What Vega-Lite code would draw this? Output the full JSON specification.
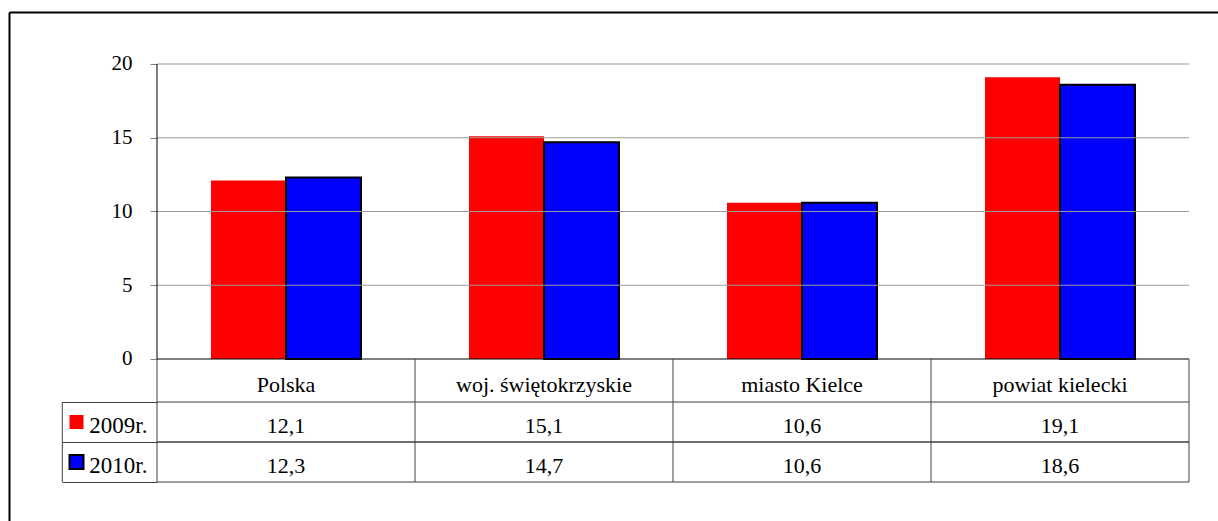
{
  "$schema": "https://vega.github.io/schema/vega-lite/v6.json",
  "width": 1209,
  "height": 509,
  "autosize": {"type": "none"},
  "padding": {"left": 9, "top": 12, "right": 0, "bottom": 0},
  "background": "white",
  "config": {
    "view": {"stroke": null},
    "font": "Liberation Serif",
    "axis": {"labelFont": "Liberation Serif", "labelColor": "black"},
    "text": {"font": "Liberation Serif"}
  },
  "datasets": {
    "vals": [
      {"cat": "Polska", "year": "2009r.", "value": 12.1},
      {"cat": "Polska", "year": "2010r.", "value": 12.3},
      {"cat": "woj. świętokrzyskie", "year": "2009r.", "value": 15.1},
      {"cat": "woj. świętokrzyskie", "year": "2010r.", "value": 14.7},
      {"cat": "miasto Kielce", "year": "2009r.", "value": 10.6},
      {"cat": "miasto Kielce", "year": "2010r.", "value": 10.6},
      {"cat": "powiat kielecki", "year": "2009r.", "value": 19.1},
      {"cat": "powiat kielecki", "year": "2010r.", "value": 18.6}
    ],
    "cats": [
      {"cat": "Polska"},
      {"cat": "woj. świętokrzyskie"},
      {"cat": "miasto Kielce"},
      {"cat": "powiat kielecki"}
    ]
  },
  "resolve": {"scale": {"y": "independent"}, "axis": {"x": "independent", "y": "independent"}},
  "layer": [
    {
      "data": {"name": "vals"},
      "mark": {"type": "bar", "strokeWidth": 2},
      "encoding": {
        "x": {"field": "cat", "type": "nominal",
          "scale": {"type": "band", "domain": ["Polska", "woj. świętokrzyskie", "miasto Kielce", "powiat kielecki"], "paddingInner": 0, "paddingOuter": 0.343, "align": 0.8362},
          "axis": {"orient": "bottom", "offset": -162, "domain": false, "ticks": false, "grid": false, "labelAngle": 0, "labelPadding": 32, "labelBaseline": "alphabetic", "labelFontSize": 22, "labelLimit": 0, "title": null}},
        "xOffset": {"field": "year", "type": "nominal", "scale": {"domain": ["2009r.", "2010r."], "paddingInner": 0, "paddingOuter": 0.72}},
        "y": {"field": "value", "type": "quantitative",
          "scale": {"type": "linear", "domain": [-10.983, 23.525], "nice": false, "zero": false},
          "axis": {"orient": "left", "offset": -148, "values": [0, 5, 10, 15, 20], "domain": false, "ticks": true, "tickSize": 7, "tickColor": "#808080", "grid": false, "labelPadding": 18, "labelFontSize": 21, "title": null}},
        "fill": {"field": "year", "type": "nominal", "scale": {"domain": ["2009r.", "2010r."], "range": ["#ff0000", "#0000ff"]}, "legend": null},
        "stroke": {"condition": {"test": "datum.year === '2010r.'", "value": "#000000"}, "value": "transparent"}
      }
    },
    {
      "data": {"name": "cats"},
      "mark": {"type": "tick", "orient": "horizontal", "size": 258, "thickness": 1, "color": "#9a9a9a", "opacity": 1},
      "encoding": {
        "x": {"field": "cat", "type": "nominal", "scale": {"type": "band", "domain": ["Polska", "woj. świętokrzyskie", "miasto Kielce", "powiat kielecki"], "paddingInner": 0, "paddingOuter": 0.343, "align": 0.8362}, "axis": null},
        "y": {"datum": 5, "type": "quantitative", "scale": {"type": "linear", "domain": [-10.983, 23.525], "nice": false, "zero": false},
          "axis": {"orient": "left", "domain": true, "domainColor": "#000000", "domainWidth": 2, "ticks": false, "labels": false, "grid": false, "title": null}}
      }
    },
    {
      "data": {"name": "cats"},
      "mark": {"type": "tick", "orient": "horizontal", "size": 258, "thickness": 1, "color": "#9a9a9a", "opacity": 1},
      "encoding": {
        "x": {"field": "cat", "type": "nominal", "scale": {"type": "band", "domain": ["Polska", "woj. świętokrzyskie", "miasto Kielce", "powiat kielecki"], "paddingInner": 0, "paddingOuter": 0.343, "align": 0.8362}, "axis": null},
        "y": {"datum": 10, "type": "quantitative", "scale": {"type": "linear", "domain": [-10.983, 23.525], "nice": false, "zero": false}, "axis": null}
      }
    },
    {
      "data": {"name": "cats"},
      "mark": {"type": "tick", "orient": "horizontal", "size": 258, "thickness": 1, "color": "#9a9a9a", "opacity": 1},
      "encoding": {
        "x": {"field": "cat", "type": "nominal", "scale": {"type": "band", "domain": ["Polska", "woj. świętokrzyskie", "miasto Kielce", "powiat kielecki"], "paddingInner": 0, "paddingOuter": 0.343, "align": 0.8362}, "axis": null},
        "y": {"datum": 15, "type": "quantitative", "scale": {"type": "linear", "domain": [-10.983, 23.525], "nice": false, "zero": false}, "axis": null}
      }
    },
    {
      "data": {"name": "cats"},
      "mark": {"type": "tick", "orient": "horizontal", "size": 258, "thickness": 1, "color": "#9a9a9a", "opacity": 1},
      "encoding": {
        "x": {"field": "cat", "type": "nominal", "scale": {"type": "band", "domain": ["Polska", "woj. świętokrzyskie", "miasto Kielce", "powiat kielecki"], "paddingInner": 0, "paddingOuter": 0.343, "align": 0.8362}, "axis": null},
        "y": {"datum": 20, "type": "quantitative", "scale": {"type": "linear", "domain": [-10.983, 23.525], "nice": false, "zero": false}, "axis": null}
      }
    },
    {
      "data": {"name": "cats"},
      "mark": {"type": "tick", "orient": "horizontal", "size": 258, "thickness": 1, "color": "#000000", "opacity": 1},
      "encoding": {
        "x": {"field": "cat", "type": "nominal", "scale": {"type": "band", "domain": ["Polska", "woj. świętokrzyskie", "miasto Kielce", "powiat kielecki"], "paddingInner": 0, "paddingOuter": 0.343, "align": 0.8362}, "axis": null},
        "y": {"datum": 0, "type": "quantitative", "scale": {"type": "linear", "domain": [-10.983, 23.525], "nice": false, "zero": false}, "axis": null}
      }
    },
    {
      "data": {"name": "cats"},
      "mark": {"type": "rule", "color": "#404040", "strokeWidth": 1},
      "encoding": {
        "x": {"field": "cat", "type": "nominal", "bandPosition": 0, "scale": {"type": "band", "domain": ["Polska", "woj. świętokrzyskie", "miasto Kielce", "powiat kielecki"], "paddingInner": 0, "paddingOuter": 0.343, "align": 0.8362}, "axis": null},
        "y": {"datum": 0, "type": "quantitative", "scale": {"type": "linear", "domain": [-10.983, 23.525], "nice": false, "zero": false}, "axis": null},
        "y2": {"datum": -8.339}
      }
    },
    {
      "data": {"name": "cats"},
      "transform": [{"filter": "datum.cat === 'powiat kielecki'"}],
      "mark": {"type": "rule", "color": "#404040", "strokeWidth": 1},
      "encoding": {
        "x": {"field": "cat", "type": "nominal", "bandPosition": 1, "scale": {"type": "band", "domain": ["Polska", "woj. świętokrzyskie", "miasto Kielce", "powiat kielecki"], "paddingInner": 0, "paddingOuter": 0.343, "align": 0.8362}, "axis": null},
        "y": {"datum": 0, "type": "quantitative", "scale": {"type": "linear", "domain": [-10.983, 23.525], "nice": false, "zero": false}, "axis": null},
        "y2": {"datum": -8.339}
      }
    },
    {
      "data": {"name": "cats"},
      "transform": [{"filter": "datum.cat === 'Polska'"}],
      "mark": {"type": "rule", "color": "#000000", "strokeWidth": 1},
      "encoding": {
        "x": {"field": "cat", "type": "nominal", "bandPosition": 0, "scale": {"type": "band", "domain": ["Polska", "woj. świętokrzyskie", "miasto Kielce", "powiat kielecki"], "paddingInner": 0, "paddingOuter": 0.343, "align": 0.8362}, "axis": null},
        "y": {"datum": 20, "type": "quantitative", "scale": {"type": "linear", "domain": [-10.983, 23.525], "nice": false, "zero": false}, "axis": null},
        "y2": {"datum": 0}
      }
    },
    {
      "data": {"name": "vals"},
      "transform": [{"calculate": "replace(format(datum.value, '.1f'), '.', ',')", "as": "lab"}],
      "mark": {"type": "text", "font": "Liberation Serif", "fontSize": 22, "baseline": "alphabetic", "align": "center", "color": "#000000"},
      "encoding": {
        "x": {"field": "cat", "type": "nominal", "scale": {"type": "band", "domain": ["Polska", "woj. świętokrzyskie", "miasto Kielce", "powiat kielecki"], "paddingInner": 0, "paddingOuter": 0.343, "align": 0.8362},
          "axis": {"orient": "top", "domain": true, "domainColor": "#000000", "domainWidth": 2, "ticks": false, "labels": false, "grid": false, "title": null}},
        "y": {"field": "year", "type": "nominal", "bandPosition": 0.77,
          "scale": {"type": "band", "domain": ["2009r.", "2010r."], "paddingInner": 0, "paddingOuter": 0, "range": [390, 470]},
          "axis": {"orient": "left", "offset": -148, "domain": false, "ticks": true, "tickBand": "extent", "tickSize": 95, "tickColor": "#404040", "grid": false, "labelPadding": -85, "labelFontSize": 23, "labelBaseline": "alphabetic", "labelOffset": 10, "title": null}},
        "text": {"field": "lab"}
      }
    },
    {
      "data": {"name": "vals"},
      "mark": {"type": "tick", "orient": "horizontal", "size": 258, "thickness": 1, "color": "#404040", "opacity": 1},
      "encoding": {
        "x": {"field": "cat", "type": "nominal", "scale": {"type": "band", "domain": ["Polska", "woj. świętokrzyskie", "miasto Kielce", "powiat kielecki"], "paddingInner": 0, "paddingOuter": 0.343, "align": 0.8362}, "axis": null},
        "y": {"field": "year", "type": "nominal", "bandPosition": 0, "scale": {"type": "band", "domain": ["2009r.", "2010r."], "paddingInner": 0, "paddingOuter": 0, "range": [390, 470]}, "axis": null}
      }
    },
    {
      "data": {"name": "vals"},
      "mark": {"type": "tick", "orient": "horizontal", "size": 258, "thickness": 1, "color": "#404040", "opacity": 1},
      "encoding": {
        "x": {"field": "cat", "type": "nominal", "scale": {"type": "band", "domain": ["Polska", "woj. świętokrzyskie", "miasto Kielce", "powiat kielecki"], "paddingInner": 0, "paddingOuter": 0.343, "align": 0.8362}, "axis": null},
        "y": {"field": "year", "type": "nominal", "bandPosition": 1, "scale": {"type": "band", "domain": ["2009r.", "2010r."], "paddingInner": 0, "paddingOuter": 0, "range": [390, 470]}, "axis": null}
      }
    },
    {
      "data": {"name": "vals"},
      "transform": [{"filter": "datum.cat === 'Polska'"}],
      "mark": {"type": "point", "shape": "square", "filled": true, "size": 196, "strokeWidth": 2, "opacity": 1},
      "encoding": {
        "x": {"field": "cat", "type": "nominal", "bandPosition": -0.312, "scale": {"type": "band", "domain": ["Polska", "woj. świętokrzyskie", "miasto Kielce", "powiat kielecki"], "paddingInner": 0, "paddingOuter": 0.343, "align": 0.8362}, "axis": null},
        "y": {"field": "year", "type": "nominal", "scale": {"type": "band", "domain": ["2009r.", "2010r."], "paddingInner": 0, "paddingOuter": 0, "range": [390, 470]}, "axis": null},
        "fill": {"field": "year", "type": "nominal", "scale": {"domain": ["2009r.", "2010r."], "range": ["#ff0000", "#0000ff"]}, "legend": null},
        "stroke": {"condition": {"test": "datum.year === '2010r.'", "value": "#000000"}, "value": "transparent"}
      }
    },
    {
      "data": {"name": "vals"},
      "transform": [{"filter": "datum.cat === 'Polska'"}],
      "mark": {"type": "tick", "orient": "vertical", "size": 40, "thickness": 1, "color": "#404040", "opacity": 1},
      "encoding": {
        "x": {"field": "cat", "type": "nominal", "bandPosition": -0.367, "scale": {"type": "band", "domain": ["Polska", "woj. świętokrzyskie", "miasto Kielce", "powiat kielecki"], "paddingInner": 0, "paddingOuter": 0.343, "align": 0.8362}, "axis": null},
        "y": {"field": "year", "type": "nominal", "scale": {"type": "band", "domain": ["2009r.", "2010r."], "paddingInner": 0, "paddingOuter": 0, "range": [390, 470]}, "axis": null}
      }
    }
  ]
}
